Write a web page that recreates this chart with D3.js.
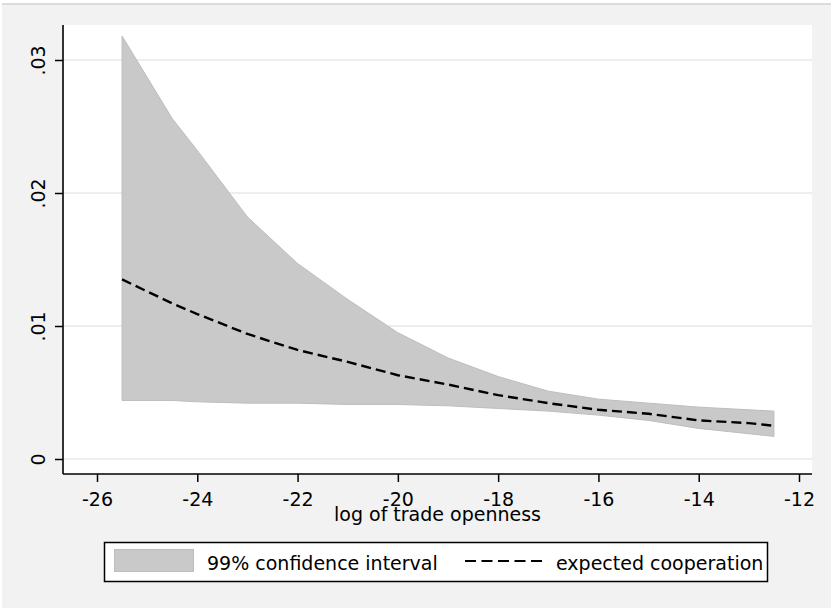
<!DOCTYPE html>
<html>
<head>
<meta charset="utf-8">
<script src="https://cdn.jsdelivr.net/npm/d3@7/dist/d3.min.js"></script>
<style>
  html, body { margin: 0; padding: 0; background: #ffffff; }
  svg { display: block; }
  text { font-family: "DejaVu Sans", Verdana, sans-serif; fill: #000; }
</style>
</head>
<body>
<svg id="chart" width="833" height="608"></svg>
<script>
// ---- data ----
const openness = [-25.5, -25, -24.5, -24, -23, -22, -21, -20, -19, -18, -17, -16, -15, -14, -13, -12.5];
const upperCI  = [0.0318, 0.0287, 0.0256, 0.0232, 0.0182, 0.0147, 0.0120, 0.0095, 0.0076, 0.0062, 0.0051, 0.0045, 0.0042, 0.0039, 0.0037, 0.0036];
const lowerCI  = [0.0044, 0.0044, 0.0044, 0.0043, 0.0042, 0.0042, 0.0041, 0.0041, 0.0040, 0.0038, 0.0036, 0.0033, 0.0029, 0.0023, 0.0019, 0.0017];
const expected = [0.0135, 0.0126, 0.0117, 0.0109, 0.0094, 0.0082, 0.0073, 0.0063, 0.0056, 0.0048, 0.0042, 0.0037, 0.0034, 0.0029, 0.0027, 0.0025];
const xTicks = [-26, -24, -22, -20, -18, -16, -14, -12];
const yTicks = [0, 0.01, 0.02, 0.03];
const yTickLabels = ["0", ".01", ".02", ".03"];
const xTitle = "log of trade openness";
const legendLabels = ["99% confidence interval", "expected cooperation"];

const rows = openness.map((x, i) => ({x, lo: lowerCI[i], hi: upperCI[i], y: expected[i]}));

const FONT = "DejaVu Sans, Verdana, sans-serif";
const FS = 19;
const svg = d3.select("#chart");

// outer panel
svg.append("rect").attr("x", 2).attr("y", 4).attr("width", 829).attr("height", 604).attr("fill", "#f2f2f2");
svg.append("line").attr("x1", 2).attr("x2", 831).attr("y1", 4).attr("y2", 4).attr("stroke", "#d2d2d2").attr("stroke-width", 1.5);

const plot = {left: 63, right: 812, top: 25, bottom: 474};
svg.append("rect").attr("x", plot.left).attr("y", plot.top)
  .attr("width", plot.right - plot.left).attr("height", plot.bottom - plot.top).attr("fill", "#ffffff");

const x = d3.scaleLinear().domain([-26, -12]).range([97, 799]);
const y = d3.scaleLinear().domain([0, 0.03]).range([459, 60]);

// gridlines
svg.append("g").selectAll("line").data(yTicks).join("line")
  .attr("x1", plot.left).attr("x2", plot.right)
  .attr("y1", d => y(d)).attr("y2", d => y(d))
  .attr("stroke", "#e8e8e8").attr("stroke-width", 1.5);

// band
const area = d3.area().x(d => x(d.x)).y0(d => y(d.lo)).y1(d => y(d.hi));
svg.append("path").datum(rows).attr("d", area)
  .attr("fill", "#c9c9c9").attr("stroke", "#bdbdbd").attr("stroke-width", 1);

// expected line
const line = d3.line().x(d => x(d.x)).y(d => y(d.y));
svg.append("path").datum(rows).attr("d", line)
  .attr("fill", "none").attr("stroke", "#000").attr("stroke-width", 2.4)
  .attr("stroke-dasharray", "10,5");

// axes
const xAxis = d3.axisBottom(x).tickValues(xTicks).tickSize(8).tickFormat(d => String(d));
const gx = svg.append("g").attr("transform", `translate(0,${plot.bottom})`).call(xAxis);
gx.select(".domain").remove();
gx.selectAll(".tick line").attr("stroke", "#000").attr("stroke-width", 1.5);
gx.selectAll(".tick text").attr("font-size", FS).attr("font-family", FONT)
  .attr("fill", "#000").attr("dy", null).attr("y", 32);
svg.append("line").attr("x1", plot.left).attr("x2", plot.right).attr("y1", plot.bottom).attr("y2", plot.bottom)
  .attr("stroke", "#000").attr("stroke-width", 1.6);

const yAxis = d3.axisLeft(y).tickValues(yTicks).tickSize(8).tickFormat((d, i) => yTickLabels[i]);
const gy = svg.append("g").attr("transform", `translate(${plot.left},0)`).call(yAxis);
gy.select(".domain").remove();
gy.selectAll(".tick line").attr("stroke", "#000").attr("stroke-width", 1.5);
gy.selectAll(".tick text").attr("font-size", FS).attr("font-family", FONT)
  .attr("fill", "#000").attr("x", null).attr("dy", null)
  .attr("text-anchor", "middle").attr("transform", "translate(-18,0) rotate(-90)");
svg.append("line").attr("x1", plot.left).attr("x2", plot.left).attr("y1", plot.top).attr("y2", plot.bottom)
  .attr("stroke", "#000").attr("stroke-width", 1.6);

// axis title
svg.append("text").attr("x", (plot.left + plot.right) / 2).attr("y", 521)
  .attr("text-anchor", "middle").attr("font-size", FS).text(xTitle);

// legend
const lg = svg.append("g");
lg.append("rect").attr("x", 104.5).attr("y", 542.5).attr("width", 663).attr("height", 39)
  .attr("fill", "#fff").attr("stroke", "#000").attr("stroke-width", 1.5);
lg.append("rect").attr("x", 114.5).attr("y", 549.5).attr("width", 79).attr("height", 22)
  .attr("fill", "#c9c9c9").attr("stroke", "#bdbdbd").attr("stroke-width", 1);
lg.append("text").attr("x", 207).attr("y", 570).attr("font-size", FS).text(legendLabels[0]);
lg.append("line").attr("x1", 465).attr("x2", 542).attr("y1", 561).attr("y2", 561)
  .attr("stroke", "#000").attr("stroke-width", 2).attr("stroke-dasharray", "11,5.5");
lg.append("text").attr("x", 556).attr("y", 570).attr("font-size", FS).text(legendLabels[1]);
</script>
</body>
</html>
